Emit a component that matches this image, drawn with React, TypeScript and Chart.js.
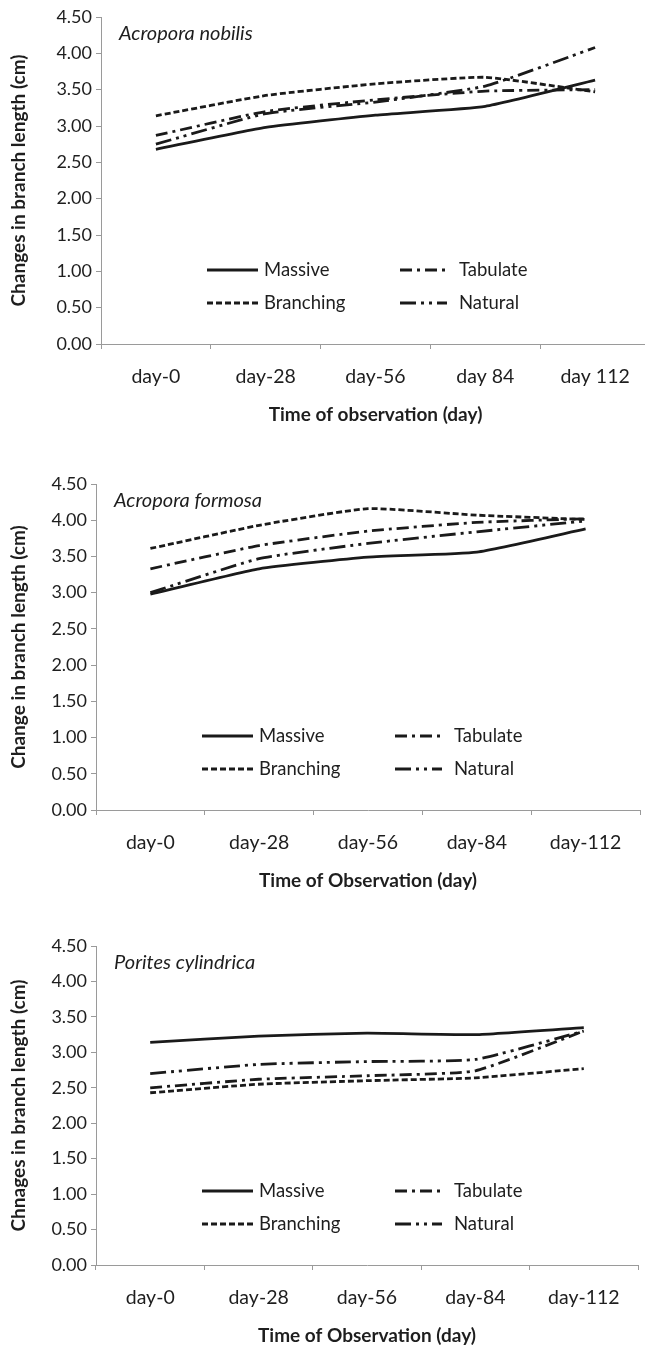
import React, { useEffect, useRef } from "react";
import { Chart, registerables } from "chart.js";

Chart.register(...registerables);

const FONT = "Lato, 'Open Sans', 'DejaVu Sans', sans-serif";

// ---- Data ----
const seriesNames = ["Massive", "Tabulate", "Branching", "Natural"];

const nobilisDays = ["day-0", "day-28", "day-56", "day 84", "day 112"];
const nobilisMassive = [2.68, 2.98, 3.15, 3.27, 3.63];
const nobilisTabulate = [2.87, 3.2, 3.36, 3.48, 3.5];
const nobilisBranching = [3.14, 3.42, 3.58, 3.67, 3.47];
const nobilisNatural = [2.75, 3.17, 3.33, 3.55, 4.08];

const formosaDays = ["day-0", "day-28", "day-56", "day-84", "day-112"];
const formosaMassive = [2.98, 3.33, 3.49, 3.56, 3.88];
const formosaTabulate = [3.33, 3.65, 3.85, 3.97, 4.02];
const formosaBranching = [3.61, 3.93, 4.16, 4.07, 4.01];
const formosaNatural = [3.0, 3.47, 3.68, 3.84, 3.99];

const poritesDays = ["day-0", "day-28", "day-56", "day-84", "day-112"];
const poritesMassive = [3.14, 3.23, 3.27, 3.25, 3.35];
const poritesTabulate = [2.5, 2.62, 2.67, 2.74, 3.3];
const poritesBranching = [2.43, 2.55, 2.6, 2.64, 2.77];
const poritesNatural = [2.7, 2.83, 2.87, 2.9, 3.3];

const yMin = 0;
const yMax = 4.5;
const yStep = 0.5;

// ---- Styles ----
const DASHES: number[][] = [[], [12, 5, 3, 5], [6, 3], [16, 5, 3, 5, 3, 5]];
const LINE_COLOR = "#1a1a1a";
const AXIS_COLOR = "#9a9a9a";
const TEXT_COLOR = "#1e1e1e";

type Panel = {
  species: string;
  yTitle: string;
  xTitle: string;
  days: string[];
  values: number[][];
  top: number;
  height: number;
  width: number;
  left: number;
  padRight: number;
};

const panels: Panel[] = [
  {
    species: "Acropora nobilis",
    yTitle: "Changes in branch length (cm)",
    xTitle: "Time of observation (day)",
    days: nobilisDays,
    values: [nobilisMassive, nobilisTabulate, nobilisBranching, nobilisNatural],
    top: -3,
    height: 429,
    width: 660,
    left: 101,
    padRight: 10,
  },
  {
    species: "Acropora formosa",
    yTitle: "Change in branch length (cm)",
    xTitle: "Time of Observation (day)",
    days: formosaDays,
    values: [formosaMassive, formosaTabulate, formosaBranching, formosaNatural],
    top: 464,
    height: 428,
    width: 645,
    left: 96,
    padRight: 5,
  },
  {
    species: "Porites cylindrica",
    yTitle: "Chnages in branch length (cm)",
    xTitle: "Time of Observation (day)",
    days: poritesDays,
    values: [poritesMassive, poritesTabulate, poritesBranching, poritesNatural],
    top: 926,
    height: 421,
    width: 645,
    left: 96,
    padRight: 7,
  },
];

function ChartPanel({ p }: { p: Panel }) {
  const ref = useRef<HTMLCanvasElement | null>(null);

  useEffect(() => {
    if (!ref.current) return;
    const overlay = {
      id: "overlay",
      afterDraw(chart: any) {
        const { ctx, chartArea } = chart;
        ctx.save();
        // species title
        ctx.fillStyle = TEXT_COLOR;
        ctx.font = `italic 20px ${FONT}`;
        ctx.textBaseline = "middle";
        ctx.textAlign = "left";
        ctx.fillText(p.species, chartArea.left + 18, chartArea.top + 17);
        // legend
        const rows = [chartArea.bottom - 74, chartArea.bottom - 41];
        const cols = [
          { x0: chartArea.left + 106, x1: chartArea.left + 157, tx: chartArea.left + 163 },
          { x0: chartArea.left + 299, x1: chartArea.left + 346, tx: chartArea.left + 358 },
        ];
        chart.data.datasets.forEach((ds: any, i: number) => {
          const c = cols[i % 2];
          const y = rows[Math.floor(i / 2)];
          ctx.strokeStyle = LINE_COLOR;
          ctx.lineWidth = 2.8;
          ctx.setLineDash(ds.borderDash || []);
          ctx.beginPath();
          ctx.moveTo(c.x0, y);
          ctx.lineTo(c.x1, y);
          ctx.stroke();
          ctx.setLineDash([]);
          ctx.font = `18.5px ${FONT}`;
          ctx.fillStyle = TEXT_COLOR;
          ctx.fillText(ds.label, c.tx, y);
        });
        ctx.restore();
      },
    };

    const chart = new Chart(ref.current, {
      type: "line",
      data: {
        labels: p.days,
        datasets: seriesNames.map((name, i) => ({
          label: name,
          data: p.values[i],
          borderColor: LINE_COLOR,
          borderWidth: 2.8,
          borderDash: DASHES[i],
          pointRadius: 0,
          tension: 0.15,
          fill: false,
        })),
      },
      options: {
        animation: false,
        responsive: false,
        devicePixelRatio: 1,
        layout: { padding: { top: 20, right: p.padRight, bottom: 0, left: 0 } },
        plugins: { legend: { display: false }, tooltip: { enabled: false }, title: { display: false } },
        scales: {
          x: {
            type: "category",
            offset: true,
            afterFit: (s: any) => {
              s.height = 82;
            },
            grid: {
              display: true,
              offset: true,
              drawOnChartArea: false,
              drawTicks: true,
              tickLength: 5,
              color: AXIS_COLOR,
            },
            border: { display: true, color: AXIS_COLOR, width: 1 },
            ticks: { color: TEXT_COLOR, font: { family: FONT, size: 19.5 }, padding: 16, maxRotation: 0 },
            title: {
              display: true,
              text: p.xTitle,
              color: TEXT_COLOR,
              font: { family: FONT, size: 19, weight: "bold" },
              padding: { top: 0, bottom: 0 },
            },
          },
          y: {
            min: yMin,
            max: yMax,
            afterFit: (s: any) => {
              s.width = p.left;
            },
            grid: {
              display: true,
              drawOnChartArea: false,
              drawTicks: true,
              tickLength: 5,
              color: AXIS_COLOR,
            },
            border: { display: true, color: AXIS_COLOR, width: 1 },
            ticks: {
              stepSize: yStep,
              color: TEXT_COLOR,
              font: { family: FONT, size: 18 },
              padding: 4,
              callback: (v: any) => Number(v).toFixed(2),
            },
            title: {
              display: true,
              text: p.yTitle,
              color: TEXT_COLOR,
              font: { family: FONT, size: 19, weight: "bold" },
              padding: { top: 7, bottom: 0 },
            },
          },
        },
      },
      plugins: [overlay],
    } as any);
    return () => chart.destroy();
  }, [p]);

  return (
    <canvas
      ref={ref}
      width={p.width}
      height={p.height}
      style={{ position: "absolute", left: 0, top: p.top, width: p.width, height: p.height }}
    />
  );
}

export default function App() {
  return (
    <div
      style={{
        position: "absolute",
        left: 0,
        top: 0,
        width: 645,
        height: 1347,
        overflow: "hidden",
        background: "#ffffff",
      }}
    >
      {panels.map((p) => (
        <ChartPanel key={p.species} p={p} />
      ))}
    </div>
  );
}
